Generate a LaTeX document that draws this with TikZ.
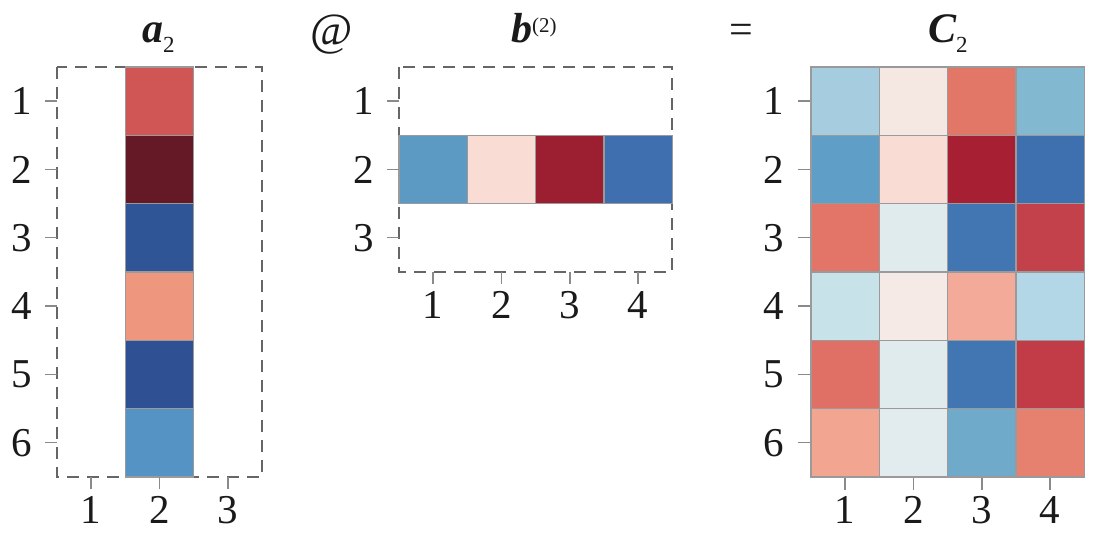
\documentclass[tikz,border=0pt]{standalone}
\usepackage{fontspec}
\IfFontExistsTF{LiberationSerif-Regular.ttf}
  {\setmainfont{LiberationSerif}[Extension=.ttf,UprightFont=*-Regular,BoldFont=*-Bold,ItalicFont=*-Italic,BoldItalicFont=*-BoldItalic]}
  {\setmainfont{Liberation Serif}}
\definecolor{cellline}{HTML}{9A9A9A}
\definecolor{dashline}{HTML}{666666}
\definecolor{tickline}{HTML}{8A8A8A}
\definecolor{txt}{HTML}{1A1A1A}
% a_2
\definecolor{A1}{HTML}{D05555}
\definecolor{A2}{HTML}{651826}
\definecolor{A3}{HTML}{2F5597}
\definecolor{A4}{HTML}{EE967E}
\definecolor{A5}{HTML}{2F5093}
\definecolor{A6}{HTML}{5493C4}
% b^(2)
\definecolor{B1}{HTML}{5C9AC4}
\definecolor{B2}{HTML}{F9DCD3}
\definecolor{B3}{HTML}{9B1F31}
\definecolor{B4}{HTML}{3F6FAE}
% C_2
\definecolor{C11}{HTML}{A5CDDF}\definecolor{C12}{HTML}{F5E8E3}\definecolor{C13}{HTML}{E27667}\definecolor{C14}{HTML}{82B8D0}
\definecolor{C21}{HTML}{5F9EC6}\definecolor{C22}{HTML}{F9DCD4}\definecolor{C23}{HTML}{A61F33}\definecolor{C24}{HTML}{3E70B0}
\definecolor{C31}{HTML}{E27468}\definecolor{C32}{HTML}{E0EBEE}\definecolor{C33}{HTML}{4276B3}\definecolor{C34}{HTML}{C2414A}
\definecolor{C41}{HTML}{C8E2EA}\definecolor{C42}{HTML}{F5EAE6}\definecolor{C43}{HTML}{F4AA98}\definecolor{C44}{HTML}{B3D7E7}
\definecolor{C51}{HTML}{E07065}\definecolor{C52}{HTML}{E0EBEE}\definecolor{C53}{HTML}{4276B3}\definecolor{C54}{HTML}{C13C47}
\definecolor{C61}{HTML}{F2A692}\definecolor{C62}{HTML}{E2ECEF}\definecolor{C63}{HTML}{70AACB}\definecolor{C64}{HTML}{E7816F}
\begin{document}
\begin{tikzpicture}[x=1pt,y=-1pt,
  cell/.style={draw=cellline,line width=1.4pt},
  dashbox/.style={draw=dashline,line width=1.8pt,dash pattern=on 12pt off 8pt},
  tick/.style={draw=tickline,line width=1.5pt},
  ticklab/.style={inner sep=0pt,text=txt,font=\fontsize{41}{41}\selectfont},
  title/.style={inner sep=0pt,text=txt,font=\fontsize{42}{42}\selectfont}]
\useasboundingbox[fill=white] (0,0) rectangle (1100,545);
\def\s{68.3}
% ---------- a_2 ----------
\draw[dashbox] (57,67) rectangle (262,477);
\foreach \r in {1,...,6}{
  \draw[cell,fill=A\r] ({57+\s},{67+(\r-1)*\s}) rectangle ++(\s,\s);
  \coordinate (al\r) at (57,{67+(\r-0.5)*\s});
  \draw[tick] (al\r) -- ++(-12,0);
  \node[ticklab] (alab\r) at (22,{67+(\r-0.5)*\s}) {\r};
}
\foreach \c in {1,2,3}{
  \coordinate (ab\c) at ({57+(\c-0.5)*\s},477);
  \draw[tick] (ab\c) -- ++(0,12);
  \node[ticklab] (ablab\c) at ({57+(\c-0.5)*\s},510) {\c};
}
% ---------- b^(2) ----------
\draw[dashbox] (399,67) rectangle (672,272);
\foreach \c in {1,...,4}{
  \draw[cell,fill=B\c] ({399+(\c-1)*\s},{67+\s}) rectangle ++(\s,\s);
  \coordinate (bb\c) at ({399+(\c-0.5)*\s},272);
  \draw[tick] (bb\c) -- ++(0,12);
  \node[ticklab] (bblab\c) at ({399+(\c-0.5)*\s},305) {\c};
}
\foreach \r in {1,2,3}{
  \coordinate (bl\r) at (399,{67+(\r-0.5)*\s});
  \draw[tick] (bl\r) -- ++(-12,0);
  \node[ticklab] (blab\r) at (364,{67+(\r-0.5)*\s}) {\r};
}
% ---------- C_2 ----------
\foreach \r in {1,...,6}{
  \foreach \c in {1,...,4}{
    \draw[cell,fill=C\r\c] ({811+(\c-1)*\s},{67+(\r-1)*\s}) rectangle ++(\s,\s);
  }
  \coordinate (cl\r) at (810,{67+(\r-0.5)*\s});
  \draw[tick] (cl\r) -- ++(-12,0);
  \node[ticklab] (clab\r) at (774,{67+(\r-0.5)*\s}) {\r};
}
\foreach \c in {1,...,4}{
  \coordinate (cb\c) at ({811+(\c-0.5)*\s},478);
  \draw[tick] (cb\c) -- ++(0,12);
  \node[ticklab] (cblab\c) at ({811+(\c-0.5)*\s},510) {\c};
}
% ---------- titles ----------
\node[title,anchor=base west] (ta) at (142,43) {\bfseries\itshape a\raisebox{-10pt}{\normalfont\fontsize{23}{23}\selectfont 2}};
\node[title,anchor=base,font=\fontsize{46}{46}\selectfont] (tat) at (332,46) {@};
\node[title,anchor=base west] (tb) at (511,43) {\bfseries\itshape b\raisebox{10pt}{\normalfont\fontsize{21}{21}\selectfont (2)}};
\node[title,anchor=base] (teq) at (741,44) {=};
\node[title,anchor=base west] (tc) at (928,43) {\bfseries\itshape C\raisebox{-10pt}{\normalfont\fontsize{23}{23}\selectfont 2}};
\end{tikzpicture}
\end{document}
